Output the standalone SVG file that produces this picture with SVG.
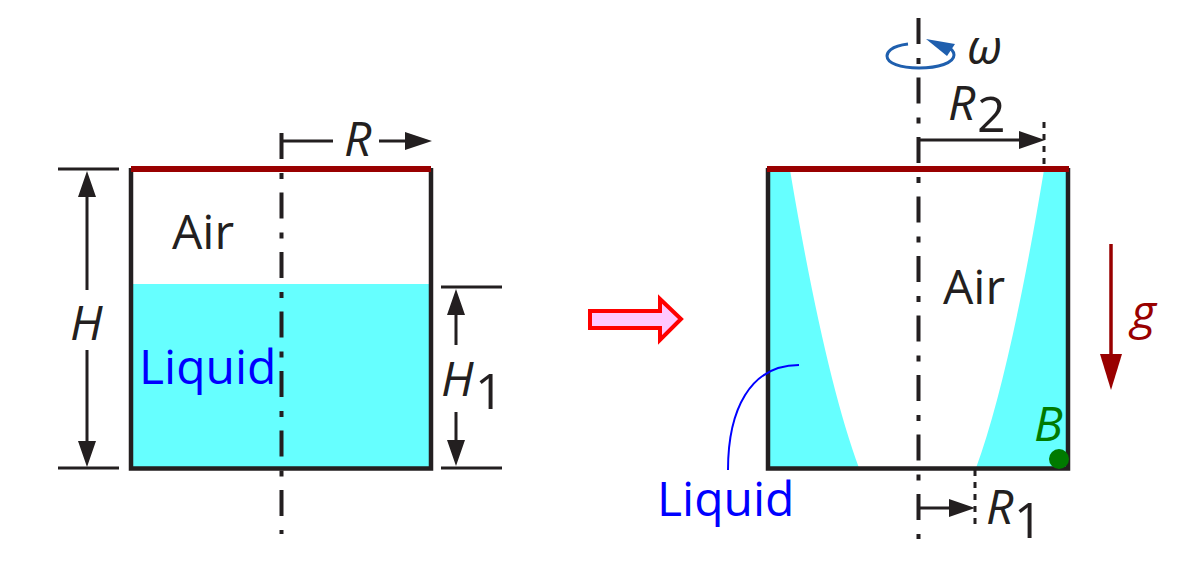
<svg xmlns="http://www.w3.org/2000/svg" width="1200" height="576" viewBox="0 0 1200 576">
<style>
text{font-family:"Open Sans","Noto Sans","Liberation Sans",sans-serif;fill:#231f20;font-size:48px}
.i{font-style:italic}
.s{font-size:50px}
.wall{fill:none;stroke:#231f20;stroke-width:4.5}
.lid{stroke:#990000;stroke-width:6;fill:none}
.axis{stroke:#231f20;stroke-width:4;fill:none;stroke-dasharray:26 14 6 13.5}
.dim{stroke:#231f20;stroke-width:3;fill:none}
.tick{stroke:#231f20;stroke-width:3;fill:none}
.water{fill:#66ffff}
.head{fill:#231f20}
</style>
<rect width="1200" height="576" fill="#ffffff"/>
<g id="left-tank">
<rect class="water" x="131" y="284" width="300" height="184"/>
<path class="wall" d="M131 168V468.5H431V168"/>
<path class="lid" d="M131 169H431"/>
</g>
<g id="right-tank">
<path class="water" d="M768 170H790Q824.5 375 859 468H768Z"/>
<path class="water" d="M1068 170H1044Q1010 375 976 468H1068Z"/>
<path class="wall" d="M768 168V468.5H1068V168"/>
<path class="lid" d="M767 169H1069"/>
<circle cx="1059" cy="459" r="10" fill="#007a00"/>
</g>
<g id="connectors">
<path class="axis" d="M281.5 133V534"/>
<path class="axis" d="M918.5 18V539"/>
<path class="dim" d="M283 141H333M379 141H412"/>
<path class="tick" d="M58 169H119M58 468H119M441 287H502M441 468H502"/>
<path class="dim" d="M87 190V290M87 350V445M456 308V345M456 412V445"/>
<path class="head" d="M432 141L405 132V150ZM87 171L78 197H96ZM87 467L78 441H96ZM456 289L447 315H465ZM456 466L447 440H465Z"/>
<path class="dim" d="M920 140H1020M920 508H955"/>
<path class="head" d="M1045 140L1019 131V149ZM975 508L949 499V517Z"/>
<path d="M1044 122V168M975 470V525" fill="none" stroke="#231f20" stroke-width="3" stroke-dasharray="6 6"/>
<path d="M728 470C728 410 750 365 799 365" fill="none" stroke="#0000ff" stroke-width="2"/>
<path d="M1111 244V362" stroke="#990000" stroke-width="3.5" fill="none"/>
<path d="M1111 390L1100 354H1122Z" fill="#990000"/>
<path d="M908 44C890 46 887 53 887 56C887 63 900 68 919 68C938 68 954 63 954 55C954 52 952 49 947 47" fill="none" stroke="#1f5fae" stroke-width="3"/>
<path d="M926 39L955 44L947 56Z" fill="#1f5fae"/>
<path d="M590 311H660V299L681 319L660 340V328H590Z" fill="#ffc8ff" stroke="#ff0000" stroke-width="4"/>
</g>
<g id="labels">
<text x="172" y="249">Air</text>
<text x="943" y="304">Air</text>
<text x="139" y="384" style="fill:#0000ff">Liquid</text>
<text x="657" y="516" style="fill:#0000ff">Liquid</text>
<text x="344" y="156" class="i">R</text>
<text x="70" y="340" class="i">H</text>
<text x="441" y="396" class="i">H</text>
<text x="475" y="409" class="s">1</text>
<text x="948" y="120" class="i">R</text>
<text x="977" y="132" class="s">2</text>
<text x="986" y="524" class="i">R</text>
<text x="1014" y="538" class="s">1</text>
<text x="967" y="64" class="i">ω</text>
<text x="1131" y="329" class="i" style="fill:#990000">g</text>
<text x="1034" y="441" class="i" style="fill:#007a00">B</text>
</g>
</svg>
